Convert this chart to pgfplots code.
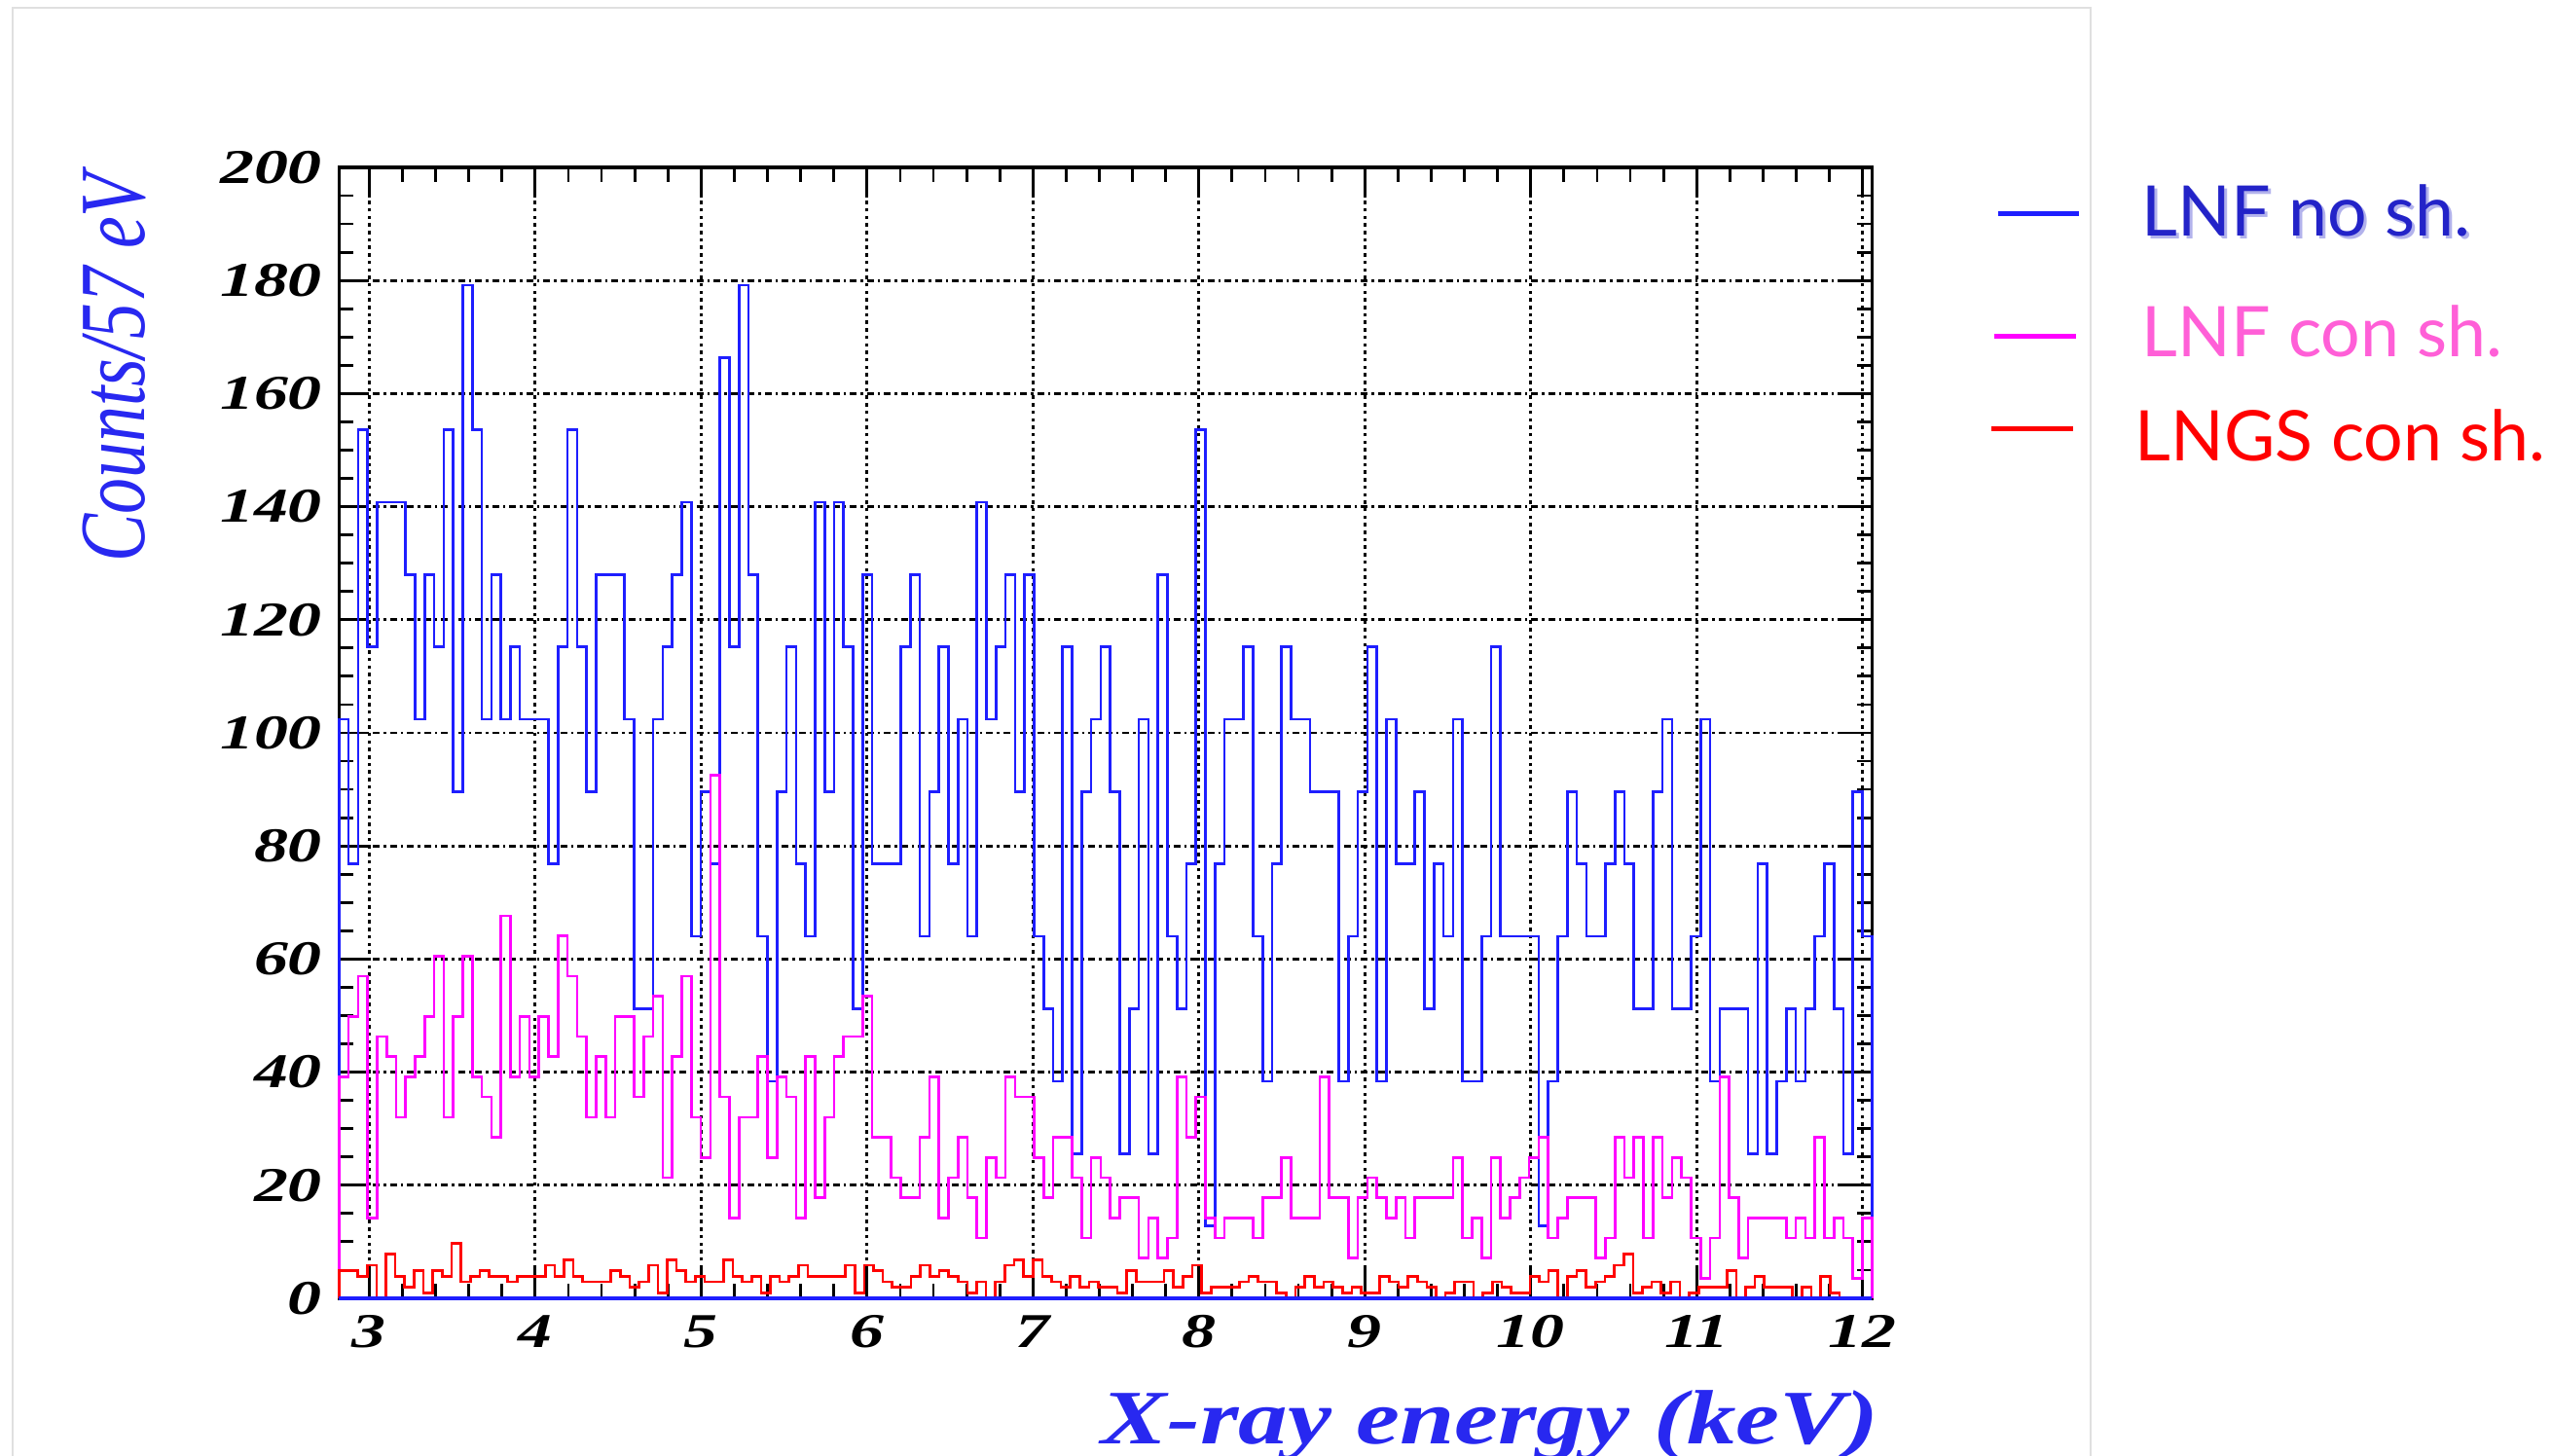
\documentclass[border=0pt]{standalone}
\usepackage{pgfplots}
\pgfplotsset{compat=1.18}
\usepackage{pgfplotstable}
\usepackage{fontspec}
\setmainfont{Liberation Serif}
\newfontfamily\legfont{Lato}

\definecolor{histblue}{RGB}{30,30,255}
\definecolor{histpink}{RGB}{255,0,255}
\definecolor{histred}{RGB}{255,0,0}
\definecolor{labblue}{RGB}{40,40,240}
\definecolor{legblue}{RGB}{35,35,200}
\definecolor{legpink}{RGB}{255,95,215}

% one value per bin (LNF no sh., 161 bins), padded with 0 at both ends
\pgfplotstableread[row sep=\\]{
y\\
0\\
102.4\\ 76.8\\ 153.6\\ 115.2\\ 140.8\\ 140.8\\ 140.8\\ 128\\ 102.4\\ 128\\
115.2\\ 153.6\\ 89.6\\ 179.2\\ 153.6\\ 102.4\\ 128\\ 102.4\\ 115.2\\ 102.4\\
102.4\\ 102.4\\ 76.8\\ 115.2\\ 153.6\\ 115.2\\ 89.6\\ 128\\ 128\\ 128\\
102.4\\ 51.2\\ 51.2\\ 102.4\\ 115.2\\ 128\\ 140.8\\ 64\\ 89.6\\ 76.8\\
166.4\\ 115.2\\ 179.2\\ 128\\ 64\\ 38.4\\ 89.6\\ 115.2\\ 76.8\\ 64\\
140.8\\ 89.6\\ 140.8\\ 115.2\\ 51.2\\ 128\\ 76.8\\ 76.8\\ 76.8\\ 115.2\\
128\\ 64\\ 89.6\\ 115.2\\ 76.8\\ 102.4\\ 64\\ 140.8\\ 102.4\\ 115.2\\
128\\ 89.6\\ 128\\ 64\\ 51.2\\ 38.4\\ 115.2\\ 25.6\\ 89.6\\ 102.4\\
115.2\\ 89.6\\ 25.6\\ 51.2\\ 102.4\\ 25.6\\ 128\\ 64\\ 51.2\\ 76.8\\
153.6\\ 12.8\\ 76.8\\ 102.4\\ 102.4\\ 115.2\\ 64\\ 38.4\\ 76.8\\ 115.2\\
102.4\\ 102.4\\ 89.6\\ 89.6\\ 89.6\\ 38.4\\ 64\\ 89.6\\ 115.2\\ 38.4\\
102.4\\ 76.8\\ 76.8\\ 89.6\\ 51.2\\ 76.8\\ 64\\ 102.4\\ 38.4\\ 38.4\\
64\\ 115.2\\ 64\\ 64\\ 64\\ 64\\ 12.8\\ 38.4\\ 64\\ 89.6\\
76.8\\ 64\\ 64\\ 76.8\\ 89.6\\ 76.8\\ 51.2\\ 51.2\\ 89.6\\ 102.4\\
51.2\\ 51.2\\ 64\\ 102.4\\ 38.4\\ 51.2\\ 51.2\\ 51.2\\ 25.6\\ 76.8\\
25.6\\ 38.4\\ 51.2\\ 38.4\\ 51.2\\ 64\\ 76.8\\ 51.2\\ 25.6\\ 89.6\\ 64\\
0\\
}\bluehist

% LNF con sh.
\pgfplotstableread[row sep=\\]{
y\\
0\\
39.16\\ 49.84\\ 56.96\\ 14.24\\ 46.28\\ 42.72\\ 32.04\\ 39.16\\ 42.72\\ 49.84\\
60.52\\ 32.04\\ 49.84\\ 60.52\\ 39.16\\ 35.6\\ 28.48\\ 67.64\\ 39.16\\ 49.84\\
39.16\\ 49.84\\ 42.72\\ 64.08\\ 56.96\\ 46.28\\ 32.04\\ 42.72\\ 32.04\\ 49.84\\
49.84\\ 35.6\\ 46.28\\ 53.4\\ 21.36\\ 42.72\\ 56.96\\ 32.04\\ 24.92\\ 92.56\\
35.6\\ 14.24\\ 32.04\\ 32.04\\ 42.72\\ 24.92\\ 39.16\\ 35.6\\ 14.24\\ 42.72\\
17.8\\ 32.04\\ 42.72\\ 46.28\\ 46.28\\ 53.4\\ 28.48\\ 28.48\\ 21.36\\ 17.8\\
17.8\\ 28.48\\ 39.16\\ 14.24\\ 21.36\\ 28.48\\ 17.8\\ 10.68\\ 24.92\\ 21.36\\
39.16\\ 35.6\\ 35.6\\ 24.92\\ 17.8\\ 28.48\\ 28.48\\ 21.36\\ 10.68\\ 24.92\\
21.36\\ 14.24\\ 17.8\\ 17.8\\ 7.12\\ 14.24\\ 7.12\\ 10.68\\ 39.16\\ 28.48\\
35.6\\ 14.24\\ 10.68\\ 14.24\\ 14.24\\ 14.24\\ 10.68\\ 17.8\\ 17.8\\ 24.92\\
14.24\\ 14.24\\ 14.24\\ 39.16\\ 17.8\\ 17.8\\ 7.12\\ 17.8\\ 21.36\\ 17.8\\
14.24\\ 17.8\\ 10.68\\ 17.8\\ 17.8\\ 17.8\\ 17.8\\ 24.92\\ 10.68\\ 14.24\\
7.12\\ 24.92\\ 14.24\\ 17.8\\ 21.36\\ 24.92\\ 28.48\\ 10.68\\ 14.24\\ 17.8\\
17.8\\ 17.8\\ 7.12\\ 10.68\\ 28.48\\ 21.36\\ 28.48\\ 10.68\\ 28.48\\ 17.8\\
24.92\\ 21.36\\ 10.68\\ 3.56\\ 10.68\\ 39.16\\ 17.8\\ 7.12\\ 14.24\\ 14.24\\
14.24\\ 14.24\\ 10.68\\ 14.24\\ 10.68\\ 28.48\\ 10.68\\ 14.24\\ 10.68\\ 3.56\\ 14.24\\
0\\
}\pinkhist

% LNGS con sh. (its bins are a little narrower)
\pgfplotstableread[row sep=\\]{
y\\
0\\
4.89\\ 4.89\\ 3.91\\ 5.86\\ 0\\ 7.82\\ 3.91\\ 1.95\\ 4.89\\ 0.98\\
4.89\\ 3.91\\ 9.77\\ 2.93\\ 3.91\\ 4.89\\ 3.91\\ 3.91\\ 2.93\\ 3.91\\
3.91\\ 3.91\\ 5.86\\ 3.91\\ 6.84\\ 3.91\\ 2.93\\ 2.93\\ 2.93\\ 4.89\\
3.91\\ 1.95\\ 2.93\\ 5.86\\ 0.98\\ 6.84\\ 4.89\\ 2.93\\ 3.91\\ 2.93\\
2.93\\ 6.84\\ 3.91\\ 2.93\\ 3.91\\ 0.98\\ 3.91\\ 2.93\\ 3.91\\ 5.86\\
3.91\\ 3.91\\ 3.91\\ 3.91\\ 5.86\\ 0.98\\ 5.86\\ 4.89\\ 2.93\\ 1.95\\
1.95\\ 3.91\\ 5.86\\ 3.91\\ 4.89\\ 3.91\\ 2.93\\ 0.98\\ 2.93\\ 0\\
2.93\\ 5.86\\ 6.84\\ 3.91\\ 6.84\\ 3.91\\ 2.93\\ 1.95\\ 3.91\\ 1.95\\
2.93\\ 1.95\\ 1.95\\ 0.98\\ 4.89\\ 2.93\\ 2.93\\ 2.93\\ 4.89\\ 1.95\\
3.91\\ 5.86\\ 0.98\\ 1.95\\ 1.95\\ 1.95\\ 2.93\\ 3.91\\ 2.93\\ 2.93\\
0.98\\ 0\\ 1.95\\ 3.91\\ 1.95\\ 2.93\\ 1.95\\ 0.98\\ 1.95\\ 0.98\\
0.98\\ 3.91\\ 2.93\\ 1.95\\ 3.91\\ 2.93\\ 1.95\\ 0\\ 0.98\\ 2.93\\
2.93\\ 0\\ 0.98\\ 2.93\\ 1.95\\ 0.98\\ 0.98\\ 3.91\\ 2.93\\ 4.89\\
0\\ 3.91\\ 4.89\\ 1.95\\ 2.93\\ 3.91\\ 5.86\\ 7.82\\ 0.98\\ 1.95\\
2.93\\ 0.98\\ 2.93\\ 0\\ 0.98\\ 1.95\\ 1.95\\ 1.95\\ 4.89\\ 0\\
1.95\\ 3.91\\ 1.95\\ 1.95\\ 1.95\\ 0\\ 1.95\\ 0\\ 3.91\\ 0.98\\
0\\
}\redhist

\begin{document}
\begin{tikzpicture}[x=1cm,y=1cm]
\useasboundingbox (0,0) rectangle (26.21,14.96);
\fill[white] (0,0) rectangle (26.21,14.96);
\draw[black!12, line width=0.2mm] (0.13,-0.2) -- (0.13,14.88) -- (21.48,14.88) -- (21.48,-0.2);

\begin{axis}[
  at={(3.483cm,1.62cm)}, anchor=south west,
  scale only axis, width=15.75cm, height=11.62cm,
  xmin=2.818, xmax=12.056, ymin=0, ymax=200,
  xtick={3,...,12}, ytick={0,20,...,200},
  minor x tick num=4, minor y tick num=3,
  grid=major,
  x grid style={black, line width=0.33mm, dash pattern=on 0.35mm off 0.42mm},
  y grid style={black, line width=0.27mm, dash pattern=on 0.7mm off 0.4mm on 0.25mm off 0.4mm},
  tick align=inside,
  major tick length=3.1mm, minor tick length=1.5mm,
  every tick/.style={black, line width=0.28mm},
  axis line style={black, line width=0.32mm},
  /pgf/number format/assume math mode=true,
  tick label style={font=\fontsize{14.2}{14}\selectfont\bfseries\itshape, xscale=1.4},
  xticklabel style={yshift=-0.5mm},
  clip=false,
]
\addplot[const plot, histblue, line width=0.75pt]
  table[x expr={max(2.818,2.818+0.05738*(\coordindex-1))}, y=y] {\bluehist};
\addplot[const plot, histpink, line width=0.75pt]
  table[x expr={max(2.818,2.818+0.05738*(\coordindex-1))}, y=y] {\pinkhist};
\addplot[const plot, histred, line width=0.75pt]
  table[x expr={max(2.818,2.818+0.05651*(\coordindex-1))}, y=y] {\redhist};
\addplot[histblue, line width=0.38mm] coordinates {(2.818,0) (12.056,0)};
\end{axis}

% axis titles
\node[rotate=90, yscale=1.3, text=labblue, font=\fontsize{21}{21}\selectfont\itshape]
  at (1.17,11.18) {Counts/57 eV};
\node[anchor=base east, xscale=1.28, text=labblue, font=\fontsize{22.5}{22}\selectfont\bfseries\itshape]
  at (19.46,0.12) {X-ray energy (keV)};

% legend
\draw[histblue, line width=0.5mm] (20.53,12.76) -- (21.36,12.76);
\draw[histpink, line width=0.5mm] (20.49,11.50) -- (21.33,11.50);
\draw[histred, line width=0.5mm] (20.46,10.55) -- (21.30,10.55);
\node[anchor=base west, inner sep=0pt, text=legblue!35, font=\legfont\fontsize{20.4}{21}\selectfont]
  at (22.03,12.50) {LNF no sh.};
\node[anchor=base west, inner sep=0pt, text=legblue, font=\legfont\fontsize{20.4}{21}\selectfont]
  at (22.00,12.53) {LNF no sh.};
\node[anchor=base west, inner sep=0pt, text=legpink, font=\legfont\fontsize{20.4}{21}\selectfont]
  at (22.00,11.29) {LNF con sh.};
\node[anchor=base west, inner sep=0pt, text=histred, font=\legfont\fontsize{20.4}{21}\selectfont]
  at (21.93,10.22) {LNGS con sh.};
\end{tikzpicture}
\end{document}
